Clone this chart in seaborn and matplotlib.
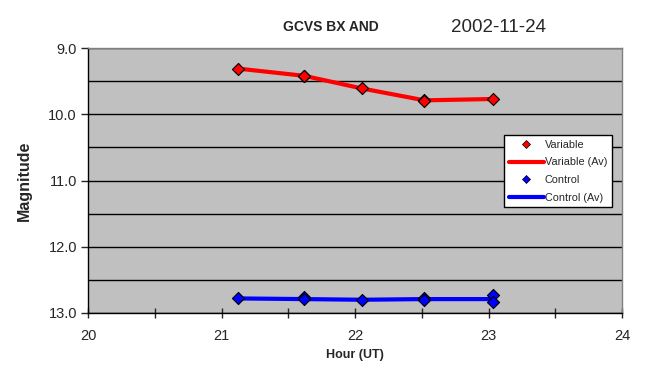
import matplotlib
matplotlib.use("Agg")
import matplotlib.pyplot as plt
import seaborn as sns
import pandas as pd
import numpy as np
from matplotlib.ticker import MultipleLocator, FixedLocator
from matplotlib.lines import Line2D

sns.set_style("white")
plt.rcParams['font.family'] = ['Liberation Sans', 'DejaVu Sans']

# Data
var_hours = [21.12, 21.62, 21.62, 22.05, 22.52, 22.52, 23.03]
var_mags = [9.31, 9.42, 9.43, 9.61, 9.78, 9.80, 9.77]
var_av_hours = [21.12, 21.62, 22.05, 22.52, 23.03]
var_av_mags = [9.31, 9.42, 9.61, 9.79, 9.77]

ctl_hours = [21.12, 21.62, 21.62, 22.05, 22.52, 22.52, 23.03, 23.03]
ctl_mags = [12.78, 12.76, 12.79, 12.80, 12.78, 12.80, 12.73, 12.84]
ctl_av_hours = [21.12, 21.62, 22.05, 22.52, 23.03]
ctl_av_mags = [12.78, 12.79, 12.80, 12.79, 12.79]

title_left = "GCVS BX AND"
title_right = "2002-11-24"

fig = plt.figure(figsize=(6.56, 3.80), dpi=100)
ax = fig.add_axes([88/656, 1 - 313/380, (622 - 88)/656, (313 - 48)/380])
ax.set_facecolor("#C0C0C0")

dv = pd.DataFrame({"h": var_av_hours, "m": var_av_mags})
dc = pd.DataFrame({"h": ctl_av_hours, "m": ctl_av_mags})
sns.lineplot(data=dv, x="h", y="m", ax=ax, color="#FF0000", lw=3, sort=False, zorder=2)
sns.lineplot(data=dc, x="h", y="m", ax=ax, color="#0000FF", lw=3, sort=False, zorder=2)
sns.scatterplot(x=var_hours, y=var_mags, ax=ax, marker="D", s=38, color="#FF0000",
                edgecolor="black", linewidth=0.8, zorder=3)
sns.scatterplot(x=ctl_hours, y=ctl_mags, ax=ax, marker="D", s=38, color="#0000FF",
                edgecolor="black", linewidth=0.8, zorder=3)

ax.set_xlim(20, 24)
ax.set_ylim(13.0, 9.0)
ax.xaxis.set_major_locator(MultipleLocator(1))
ax.xaxis.set_minor_locator(MultipleLocator(0.5))
ax.yaxis.set_major_locator(MultipleLocator(1))
ax.yaxis.set_minor_locator(MultipleLocator(0.5))
ax.yaxis.set_major_formatter(matplotlib.ticker.FormatStrFormatter("%.1f"))
ax.grid(True, which="both", axis="y", color="black", lw=1)
ax.set_axisbelow(True)
ax.tick_params(axis="x", which="both", direction="inout", length=7, width=1,
               bottom=True, pad=8, labelsize=10.5)
ax.tick_params(axis="y", which="major", direction="out", length=5, width=1,
               left=True, labelsize=10.5, pad=3)
ax.tick_params(axis="y", which="minor", length=0)
for s in ["left", "bottom"]:
    ax.spines[s].set_color("black")
    ax.spines[s].set_linewidth(1)
for s in ["top", "right"]:
    ax.spines[s].set_color("#808080")
    ax.spines[s].set_linewidth(1)

ax.set_xlabel("Hour (UT)", fontsize=9, fontweight="bold", labelpad=4)
ax.set_ylabel("Magnitude", fontsize=11.5, fontweight="bold", labelpad=12)

fig.text(331/656, 1 - 27/380, title_left, fontsize=10, fontweight="bold",
         ha="center", va="center")
fig.text(498/656, 1 - 27/380, title_right, fontsize=13.5, ha="center", va="center")

handles = [
    Line2D([], [], color="#FF0000", marker="D", ls="none", markersize=4,
           markeredgecolor="black", markeredgewidth=0.5),
    Line2D([], [], color="#FF0000", lw=3),
    Line2D([], [], color="#0000FF", marker="D", ls="none", markersize=4,
           markeredgecolor="black", markeredgewidth=0.5),
    Line2D([], [], color="#0000FF", lw=3),
]
labels = ["Variable", "Variable (Av)", "Control", "Control (Av)"]
leg = ax.legend(handles, labels, loc="upper left",
                bbox_to_anchor=((504 - 88)/534, 1 - (135 - 48)/265),
                fontsize=7.8, frameon=True, fancybox=False, framealpha=1,
                edgecolor="black", borderpad=0.45, labelspacing=0.7,
                handlelength=3.2, handletextpad=0.1, borderaxespad=0)
leg.get_frame().set_linewidth(1)

fig.savefig("out.png", dpi=100, facecolor="white")
